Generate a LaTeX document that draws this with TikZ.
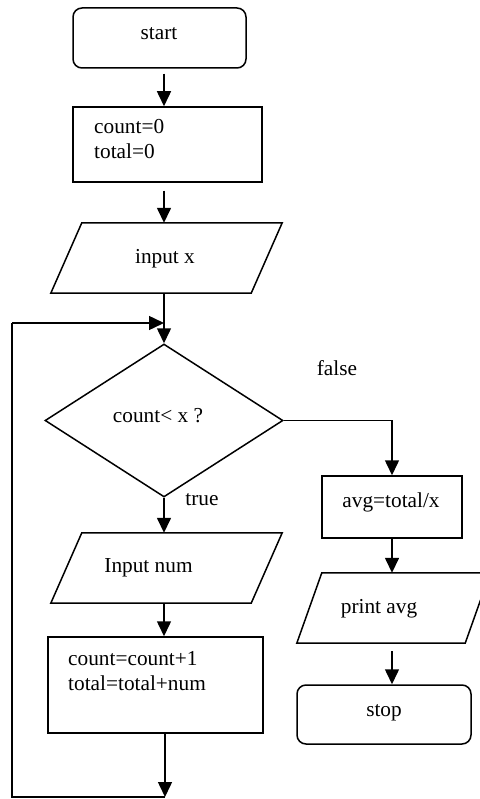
\documentclass[tikz,border=0pt]{standalone}
\usepackage{fontspec}
\setmainfont{Liberation Serif}
\usetikzlibrary{arrows.meta,shapes.geometric}
\begin{document}
\begin{tikzpicture}[x=1pt,y=-1pt,
  fig/.style={draw, line width=1.5pt, inner sep=0pt, fill=white},
  rbox/.style={fig, rectangle, rounded corners=9pt},
  pbox/.style={fig, rectangle},
  iobox/.style={rectangle, inner sep=0pt},
  figline/.style={line width=1.5pt, line join=miter},
  dbox/.style={fig, diamond},
  txt/.style={font=\fontsize{21.3}{25}\selectfont, inner sep=0pt, align=left},
  arr/.style={-{Triangle[length=15pt,width=14pt]}, line width=1.5pt}]
\useasboundingbox (0,0) rectangle (479,799);
% shapes
\node[rbox, minimum width=173pt, minimum height=60pt] (start) at (159.5,38) {};
\node[pbox, minimum width=189pt, minimum height=75pt] (init) at (167.5,144.5) {};
\node[iobox, minimum width=200pt, minimum height=70pt] (inx) at (166.5,258) {};
\draw[figline] ([xshift=15.5pt]inx.north west) -- ([xshift=15.5pt]inx.north east) -- ([xshift=-15.5pt]inx.south east) -- ([xshift=-15.5pt]inx.south west) -- cycle;
\node[dbox, minimum width=238pt, minimum height=153pt] (dec) at (164,420.5) {};
\node[iobox, minimum width=200pt, minimum height=70pt] (innum) at (166.5,568) {};
\draw[figline] ([xshift=15.5pt]innum.north west) -- ([xshift=15.5pt]innum.north east) -- ([xshift=-15.5pt]innum.south east) -- ([xshift=-15.5pt]innum.south west) -- cycle;
\node[pbox, minimum width=215pt, minimum height=96pt] (upd) at (155.5,685) {};
\node[pbox, minimum width=140pt, minimum height=62pt] (avg) at (392,507) {};
\node[iobox, minimum width=168pt, minimum height=70pt] (prt) at (393.5,608) {};
\draw[figline] ([xshift=12.5pt]prt.north west) -- ([xshift=12.5pt]prt.north east) -- ([xshift=-12.5pt]prt.south east) -- ([xshift=-12.5pt]prt.south west) -- cycle;
\node[rbox, minimum width=174pt, minimum height=59pt] (stop) at (384,714.5) {};
% texts
\node[txt, anchor=base] (tstart) at (159,40) {start};
\node[txt, anchor=north west] (tinit) at (94,119) {count=0\\total=0};
\node[txt, anchor=base] (tinx) at (165,263) {input x};
\node[txt, anchor=base] (tdec) at (158,422) {count< x ?};
\node[txt, anchor=base] (tfalse) at (337,375) {false};
\node[txt, anchor=base] (ttrue) at (202,505) {true};
\node[txt, anchor=base] (tinnum) at (148.5,572) {Input num};
\node[txt, anchor=north west] (tupd) at (68,651) {count=count+1\\total=total+num};
\node[txt, anchor=base] (tavg) at (391,507) {avg=total/x};
\node[txt, anchor=base] (tprt) at (379,613) {print avg};
\node[txt, anchor=base] (tstop) at (384,716) {stop};
% loop coordinates
\coordinate (lb) at (165,797);
\coordinate (lbl) at (12,797);
\coordinate (ltl) at (12,323);
\coordinate (lt) at (164,323);
% connectors
\draw[arr, shorten <=5pt] (start.south -| dec.north) -- (init.north -| dec.north);
\draw[arr, shorten <=8pt] (init.south -| dec.north) -- (inx.north -| dec.north);
\draw[arr] (inx.south -| dec.north) -- (dec.north);
\draw[arr] (dec.south) -- (innum.north -| dec.south);
\draw[arr] (innum.south -| dec.south) -- (upd.north -| dec.south);
\draw[arr] (upd.south -| lb) -- (lb);
\draw[line width=1.5pt] (lb) -- (lbl) -- (ltl);
\draw[arr] (ltl) -- (lt);
\draw[arr] (dec.east) -| (avg.north);
\draw[arr] (avg.south) -- (prt.north -| avg.south);
\draw[arr, shorten <=8pt] (prt.south -| avg.south) -- (stop.north -| avg.south);
\end{tikzpicture}
\end{document}
